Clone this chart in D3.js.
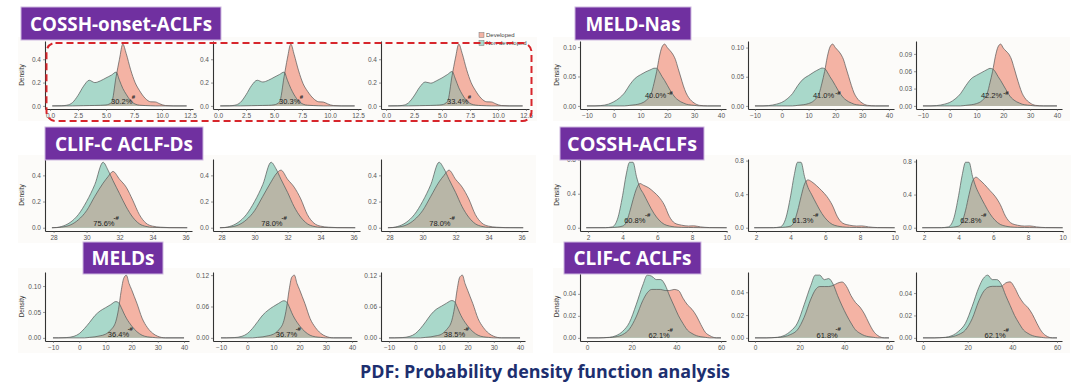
<!DOCTYPE html>
<html>
<head>
<meta charset="utf-8">
<script src="https://cdn.jsdelivr.net/npm/d3@7"></script>
<style>
  body { margin: 0; background: #fff; }
  svg { display: block; }
</style>
</head>
<body>
<svg id="chart" width="1080" height="384"></svg>
<script>
// ---------------------------------------------------------------
// Data
// ---------------------------------------------------------------

const groupTitles = ['COSSH-onset-ACLFs', 'MELD-Nas', 'CLIF-C ACLF-Ds',
                     'COSSH-ACLFs', 'MELDs', 'CLIF-C ACLFs'];
const seriesNames = ['Developed', 'Non-developed'];
const pageTitle = 'PDF: Probability density function analysis';

// COSSH-onset-ACLFs
const onsetX = [0.2, 1.0, 1.5, 2.0, 2.5, 3.0, 3.5, 4.0, 4.5, 5.0, 5.5, 5.9, 6.2,
                6.5, 6.8, 7.2, 7.6, 8.0, 8.5, 9.0, 9.4, 9.8, 10.3, 11.0, 12.2];
const onsetNon = [
  [0, 0.001, 0.006, 0.028, 0.09, 0.17, 0.22, 0.2, 0.215, 0.24, 0.265, 0.29, 0.22, 0.15, 0.1, 0.045, 0.016, 0.006, 0.003, 0.001, 0, 0, 0, 0, 0],
  [0, 0.001, 0.006, 0.03, 0.095, 0.175, 0.22, 0.205, 0.22, 0.245, 0.27, 0.29, 0.22, 0.15, 0.095, 0.042, 0.015, 0.006, 0.003, 0.001, 0, 0, 0, 0, 0],
  [0, 0.001, 0.005, 0.026, 0.085, 0.16, 0.205, 0.195, 0.215, 0.24, 0.27, 0.295, 0.23, 0.155, 0.1, 0.045, 0.017, 0.007, 0.003, 0.001, 0, 0, 0, 0, 0]
];
const onsetDev = [
  [0, 0, 0, 0, 0.001, 0.002, 0.003, 0.004, 0.005, 0.008, 0.03, 0.25, 0.4, 0.53, 0.45, 0.31, 0.2, 0.13, 0.065, 0.035, 0.034, 0.018, 0.003, 0, 0],
  [0, 0, 0, 0, 0.001, 0.002, 0.003, 0.004, 0.005, 0.009, 0.035, 0.25, 0.41, 0.53, 0.44, 0.3, 0.19, 0.125, 0.065, 0.035, 0.033, 0.017, 0.003, 0, 0],
  [0, 0, 0, 0, 0.001, 0.002, 0.003, 0.004, 0.006, 0.01, 0.04, 0.26, 0.41, 0.53, 0.45, 0.31, 0.2, 0.13, 0.065, 0.035, 0.034, 0.018, 0.003, 0, 0]
];
const onsetPct = ['30.2%', '30.3%', '33.4%'];
const onsetXTicks = [0, 2.5, 5, 7.5, 10, 12.5];
const onsetYTicks = [[0, 0.2, 0.4], [0, 0.2, 0.4], [0, 0.2, 0.4]];

// MELD-Nas
const nasX = [-10, -7, -5, -2, 0, 2, 4, 6, 8, 10, 12, 14, 15, 16, 17, 18, 19, 20,
              21, 22, 23, 24, 25, 26, 27, 28, 30, 32, 35, 40];
const nasNon = [
  [0, 0, 0.0005, 0.003, 0.007, 0.013, 0.022, 0.036, 0.047, 0.053, 0.058, 0.062, 0.064, 0.064, 0.058, 0.05, 0.043, 0.035, 0.027, 0.02, 0.014, 0.01, 0.007, 0.005, 0.003, 0.002, 0.001, 0, 0, 0],
  [0, 0, 0.0005, 0.003, 0.006, 0.012, 0.021, 0.035, 0.046, 0.052, 0.058, 0.063, 0.065, 0.064, 0.058, 0.05, 0.043, 0.035, 0.027, 0.02, 0.014, 0.01, 0.007, 0.005, 0.003, 0.002, 0.001, 0, 0, 0],
  [0, 0, 0.0005, 0.003, 0.006, 0.012, 0.021, 0.035, 0.047, 0.053, 0.058, 0.063, 0.065, 0.064, 0.059, 0.051, 0.044, 0.036, 0.028, 0.02, 0.014, 0.01, 0.007, 0.005, 0.003, 0.002, 0.001, 0, 0, 0]
];
const nasDev = [
  [0, 0, 0, 0, 0, 0, 0, 0.001, 0.002, 0.004, 0.009, 0.021, 0.038, 0.058, 0.083, 0.1, 0.105, 0.099, 0.094, 0.088, 0.079, 0.064, 0.049, 0.034, 0.022, 0.014, 0.005, 0.001, 0, 0],
  [0, 0, 0, 0, 0, 0, 0, 0.001, 0.002, 0.004, 0.009, 0.022, 0.039, 0.059, 0.084, 0.101, 0.106, 0.1, 0.095, 0.089, 0.08, 0.065, 0.05, 0.035, 0.022, 0.014, 0.005, 0.001, 0, 0],
  [0, 0, 0, 0, 0, 0, 0, 0.001, 0.002, 0.004, 0.009, 0.022, 0.04, 0.06, 0.085, 0.102, 0.107, 0.1, 0.095, 0.09, 0.081, 0.066, 0.05, 0.035, 0.022, 0.014, 0.005, 0.001, 0, 0]
];
const nasPct = ['40.0%', '41.0%', '42.2%'];
const nasXTicks = [-10, 0, 10, 20, 30, 40];
const nasYTicks = [[0, 0.05, 0.10], [0, 0.05, 0.10], [0, 0.03, 0.06, 0.09]];

// CLIF-C ACLF-Ds
const clifdX = [27.9, 28.2, 28.5, 29.0, 29.5, 30.0, 30.5, 31.0, 31.3, 31.6, 32.0,
                32.4, 32.8, 33.2, 33.6, 34.0, 34.5, 35.0, 36.1];
const clifdNon = [
  [0, 0.002, 0.01, 0.04, 0.1, 0.2, 0.33, 0.5, 0.44, 0.36, 0.26, 0.16, 0.08, 0.03, 0.01, 0.003, 0.001, 0, 0],
  [0, 0.002, 0.01, 0.04, 0.1, 0.2, 0.33, 0.5, 0.45, 0.37, 0.27, 0.16, 0.08, 0.03, 0.01, 0.003, 0.001, 0, 0],
  [0, 0.002, 0.01, 0.04, 0.1, 0.2, 0.33, 0.5, 0.45, 0.37, 0.27, 0.16, 0.08, 0.03, 0.01, 0.003, 0.001, 0, 0]
];
const clifdDev = [
  [0, 0.001, 0.005, 0.02, 0.06, 0.13, 0.24, 0.34, 0.39, 0.43, 0.37, 0.31, 0.21, 0.1, 0.035, 0.012, 0.004, 0.001, 0],
  [0, 0.001, 0.005, 0.02, 0.06, 0.13, 0.24, 0.35, 0.41, 0.44, 0.37, 0.31, 0.22, 0.1, 0.035, 0.012, 0.004, 0.001, 0],
  [0, 0.001, 0.005, 0.02, 0.06, 0.13, 0.24, 0.35, 0.4, 0.44, 0.37, 0.31, 0.22, 0.1, 0.035, 0.012, 0.004, 0.001, 0]
];
const clifdPct = ['75.6%', '78.0%', '78.0%'];
const clifdXTicks = [28, 30, 32, 34, 36];
const clifdYTicks = [[0, 0.2, 0.4], [0, 0.2, 0.4], [0, 0.2, 0.4]];

// COSSH-ACLFs
const acX = [1.9, 3.0, 3.4, 3.7, 4.0, 4.2, 4.4, 4.6, 4.8, 5.0, 5.2, 5.5, 5.8, 6.1,
             6.4, 6.7, 7.0, 7.4, 7.8, 8.1, 8.5, 9.0, 10.0];
const acNon = [
  [0, 0.001, 0.01, 0.1, 0.38, 0.62, 0.77, 0.77, 0.6, 0.47, 0.4, 0.28, 0.17, 0.09, 0.04, 0.02, 0.01, 0.005, 0.003, 0.002, 0.001, 0, 0],
  [0, 0.001, 0.01, 0.1, 0.38, 0.62, 0.78, 0.78, 0.61, 0.48, 0.4, 0.28, 0.17, 0.09, 0.04, 0.02, 0.01, 0.005, 0.003, 0.002, 0.001, 0, 0],
  [0, 0.001, 0.01, 0.1, 0.39, 0.63, 0.79, 0.79, 0.62, 0.49, 0.4, 0.28, 0.17, 0.09, 0.04, 0.02, 0.01, 0.005, 0.003, 0.002, 0.001, 0, 0]
];
const acDev = [
  [0, 0, 0.002, 0.008, 0.02, 0.06, 0.18, 0.33, 0.46, 0.52, 0.5, 0.47, 0.42, 0.36, 0.27, 0.13, 0.055, 0.03, 0.02, 0.022, 0.01, 0.002, 0],
  [0, 0, 0.002, 0.008, 0.02, 0.07, 0.2, 0.37, 0.52, 0.57, 0.55, 0.5, 0.44, 0.37, 0.27, 0.13, 0.055, 0.03, 0.02, 0.022, 0.01, 0.002, 0],
  [0, 0, 0.002, 0.008, 0.02, 0.07, 0.21, 0.4, 0.56, 0.61, 0.58, 0.52, 0.45, 0.38, 0.28, 0.14, 0.06, 0.03, 0.02, 0.022, 0.01, 0.002, 0]
];
const acPct = ['60.8%', '61.3%', '62.8%'];
const acXTicks = [2, 4, 6, 8, 10];
const acYTicks = [[0, 0.4, 0.8], [0, 0.4, 0.8], [0, 0.4, 0.8]];

// MELDs
const meldX = [-10, -8, -5, -2, 0, 2, 4, 6, 8, 10, 12, 14, 15, 16, 17, 18, 19, 20,
               21, 22, 24, 26, 28, 30, 33, 40];
const meldNon = [
  [0, 0, 0.0005, 0.003, 0.008, 0.018, 0.03, 0.043, 0.052, 0.058, 0.064, 0.07, 0.068, 0.059, 0.048, 0.038, 0.03, 0.023, 0.017, 0.012, 0.005, 0.002, 0.001, 0, 0, 0],
  [0, 0, 0.0005, 0.003, 0.008, 0.018, 0.031, 0.044, 0.053, 0.06, 0.066, 0.071, 0.069, 0.06, 0.048, 0.038, 0.03, 0.023, 0.017, 0.012, 0.005, 0.002, 0.001, 0, 0, 0],
  [0, 0, 0.0005, 0.003, 0.008, 0.018, 0.031, 0.045, 0.055, 0.061, 0.067, 0.072, 0.07, 0.06, 0.048, 0.038, 0.03, 0.023, 0.017, 0.012, 0.005, 0.002, 0.001, 0, 0, 0]
];
const meldDev = [
  [0, 0, 0, 0, 0, 0, 0.001, 0.002, 0.004, 0.007, 0.015, 0.032, 0.055, 0.09, 0.115, 0.121, 0.105, 0.093, 0.08, 0.067, 0.038, 0.02, 0.009, 0.003, 0, 0],
  [0, 0, 0, 0, 0, 0, 0.001, 0.002, 0.004, 0.007, 0.015, 0.033, 0.057, 0.092, 0.116, 0.12, 0.104, 0.092, 0.079, 0.066, 0.037, 0.02, 0.009, 0.003, 0, 0],
  [0, 0, 0, 0, 0, 0, 0.001, 0.002, 0.004, 0.007, 0.016, 0.034, 0.058, 0.093, 0.117, 0.121, 0.105, 0.092, 0.079, 0.066, 0.037, 0.02, 0.009, 0.003, 0, 0]
];
const meldPct = ['36.4%', '36.7%', '38.5%'];
const meldXTicks = [-10, 0, 10, 20, 30, 40];
const meldYTicks = [[0, 0.05, 0.10], [0, 0.06, 0.12], [0, 0.06, 0.12]];

// CLIF-C ACLFs
const cliX = [0, 5, 10, 13, 16, 19, 22, 25, 27, 29, 31, 33, 35, 37, 39, 41, 43, 45,
              47, 49, 51, 53, 55, 58, 60];
const cliNon = [
  [0, 0, 0.0005, 0.002, 0.006, 0.014, 0.03, 0.048, 0.057, 0.056, 0.053, 0.053, 0.048, 0.038, 0.029, 0.02, 0.013, 0.007, 0.004, 0.002, 0.001, 0.0005, 0, 0, 0],
  [0, 0, 0.0005, 0.002, 0.006, 0.013, 0.029, 0.046, 0.055, 0.055, 0.051, 0.052, 0.047, 0.037, 0.028, 0.02, 0.013, 0.007, 0.004, 0.002, 0.001, 0.0005, 0, 0, 0],
  [0, 0, 0.0005, 0.002, 0.006, 0.013, 0.028, 0.045, 0.053, 0.056, 0.052, 0.052, 0.048, 0.038, 0.029, 0.02, 0.013, 0.007, 0.004, 0.002, 0.001, 0.0005, 0, 0, 0]
];
const cliDev = [
  [0, 0, 0.0003, 0.001, 0.003, 0.008, 0.019, 0.034, 0.041, 0.044, 0.044, 0.044, 0.043, 0.043, 0.044, 0.043, 0.036, 0.03, 0.026, 0.02, 0.012, 0.005, 0.002, 0, 0],
  [0, 0, 0.0003, 0.001, 0.003, 0.007, 0.018, 0.034, 0.042, 0.045, 0.045, 0.045, 0.046, 0.048, 0.049, 0.045, 0.037, 0.031, 0.027, 0.021, 0.013, 0.006, 0.002, 0, 0],
  [0, 0, 0.0003, 0.001, 0.003, 0.007, 0.017, 0.033, 0.041, 0.045, 0.046, 0.046, 0.046, 0.049, 0.05, 0.045, 0.037, 0.031, 0.027, 0.021, 0.013, 0.006, 0.002, 0, 0]
];
const cliPct = ['62.1%', '61.8%', '62.1%'];
const cliXTicks = [0, 20, 40, 60];
const cliYTicks = [[0, 0.02, 0.04], [0, 0.02, 0.04], [0, 0.02, 0.04]];

// ---------------------------------------------------------------
// Layout
// ---------------------------------------------------------------

// x of the y-axis line for the three small plots in each column
const colX = [[45, 213, 381], [580, 748, 916]];
// [top, x-axis line] for each row
const rowY = [[41, 109], [159, 231], [272, 341]];

const f1 = d3.format('.1f'), f2 = d3.format('.2f'), fi = d3.format('d');

// One entry per group; label / mark positions are in data units
const groups = [
  { col: 0, row: 0, xs: onsetX, non: onsetNon, dev: onsetDev, pct: onsetPct,
    xTicks: onsetXTicks, yTicks: onsetYTicks, xFmt: f1, yFmt: f1,
    xDomain: [-0.45, 12.77], width: 148, label: [6.4, 0.03], mark: [7.45, 0.075], markText: '#',
    box: { x: 21, y: 7, w: 200, h: 33, tw: 182 } },
  { col: 1, row: 0, xs: nasX, non: nasNon, dev: nasDev, pct: nasPct,
    xTicks: nasXTicks, yTicks: nasYTicks, xFmt: fi, yFmt: f2,
    xDomain: [-12.6, 41.9], width: 146, label: [15.6, 0.017], mark: [21.0, 0.022], markText: '-#',
    box: { x: 575, y: 7, w: 116, h: 33, tw: 95 } },
  { col: 0, row: 1, xs: clifdX, non: clifdNon, dev: clifdDev, pct: clifdPct,
    xTicks: clifdXTicks, yTicks: clifdYTicks, xFmt: fi, yFmt: f1,
    xDomain: [27.48, 36.39], width: 147, label: [31.05, 0.03], mark: [31.8, 0.07], markText: '-#',
    box: { x: 45, y: 127, w: 158, h: 33, tw: 138 } },
  { col: 1, row: 1, xs: acX, non: acNon, dev: acDev, pct: acPct,
    xTicks: acXTicks, yTicks: acYTicks, xFmt: fi, yFmt: f1,
    xDomain: [1.54, 10.02], width: 147, label: [4.7, 0.075], mark: [5.45, 0.15], markText: '-#',
    box: { x: 560, y: 127, w: 144, h: 33, tw: 130 } },
  { col: 0, row: 2, xs: meldX, non: meldNon, dev: meldDev, pct: meldPct,
    xTicks: meldXTicks, yTicks: meldYTicks, xFmt: fi, yFmt: f2,
    xDomain: [-13.05, 41.9], width: 144, label: [15.0, 0.005], mark: [19.5, 0.017], markText: '-#',
    box: { x: 83, y: 242, w: 80, h: 32, tw: 63 } },
  { col: 1, row: 2, xs: cliX, non: cliNon, dev: cliDev, pct: cliPct,
    xTicks: cliXTicks, yTicks: cliYTicks, xFmt: fi, yFmt: f2,
    xDomain: [-3.13, 62.24], width: 146, label: [32.3, 0.002], mark: [37.2, 0.007], markText: '-#',
    box: { x: 564, y: 242, w: 137, h: 32, tw: 118 } }
];

// flat fills as they look in the picture; the overlap gets its own grey tone
const devColor = '#f4b3a4';
const nonColor = '#a9d8ca';
const bothColor = '#b8b6a7';
const smallFont = '"Liberation Sans", Arial, sans-serif';

const svg = d3.select('#chart');
const defs = svg.append('defs');

// faint panel backgrounds behind each row of three plots
groups.forEach(g => {
  const [top, bottom] = rowY[g.row];
  const xs = colX[g.col];
  svg.append('rect')
    .attr('x', xs[0] - 27)
    .attr('y', top - 4)
    .attr('width', xs[2] + g.width + 8 - (xs[0] - 27))
    .attr('height', bottom - top + 16)
    .attr('fill', '#fcfbf9');
});

// draw the density plots
groups.forEach((g, gi) => {
  const [top, bottom] = rowY[g.row];

  g.dev.forEach((devVals, i) => {
    const x0 = colX[g.col][i];
    const nonVals = g.non[i];
    const ymax = d3.max(devVals.concat(nonVals));

    const xScale = d3.scaleLinear().domain(g.xDomain).range([x0, x0 + g.width]);
    const yScale = d3.scaleLinear().domain([-0.05 * ymax, 1.05 * ymax]).range([bottom, top]);

    const plot = svg.append('g').attr('class', 'plot');

    const area = d3.area()
      .x((d, k) => xScale(g.xs[k]))
      .y0(yScale(0))
      .y1(d => yScale(d))
      .curve(d3.curveMonotoneX);
    const line = d3.line()
      .x((d, k) => xScale(g.xs[k]))
      .y(d => yScale(d))
      .curve(d3.curveMonotoneX);

    // clip made from the Developed area, used to paint the overlap
    const clipId = `dev-clip-${gi}-${i}`;
    defs.append('clipPath').attr('id', clipId)
      .append('path').datum(devVals).attr('d', area);

    plot.append('path').datum(devVals).attr('d', area).attr('fill', devColor);
    plot.append('path').datum(nonVals).attr('d', area).attr('fill', nonColor);
    plot.append('path').datum(nonVals).attr('d', area)
      .attr('fill', bothColor)
      .attr('clip-path', `url(#${clipId})`);

    [devVals, nonVals].forEach(vals => {
      plot.append('path')
        .datum(vals)
        .attr('d', line)
        .attr('fill', 'none')
        .attr('stroke', '#555')
        .attr('stroke-width', 0.7);
    });

    // Axes
    const xAxis = plot.append('g')
      .attr('transform', `translate(0, ${bottom})`)
      .call(d3.axisBottom(xScale).tickValues(g.xTicks).tickFormat(g.xFmt)
              .tickSize(2).tickSizeOuter(0).tickPadding(2));
    const yAxis = plot.append('g')
      .attr('transform', `translate(${x0}, 0)`)
      .call(d3.axisLeft(yScale).tickValues(g.yTicks[i]).tickFormat(g.yFmt)
              .tickSize(2).tickSizeOuter(0).tickPadding(2));

    [xAxis, yAxis].forEach(ax => {
      ax.select('.domain').attr('stroke', '#333').attr('stroke-width', 1.1);
      ax.selectAll('.tick line').attr('stroke', '#555').attr('stroke-width', 0.6);
      ax.selectAll('.tick text')
        .attr('fill', '#555')
        .style('font-family', smallFont)
        .style('font-size', '6.5px');
    });

    // Axis title only on the first plot of each group
    if (i === 0) {
      plot.append('text')
        .attr('transform', `translate(${x0 - 21}, ${(top + bottom) / 2}) rotate(-90)`)
        .attr('text-anchor', 'middle')
        .style('font-family', smallFont)
        .style('font-size', '6.5px')
        .attr('fill', '#333')
        .text('Density');
    }

    // overlap percentage and significance mark
    plot.append('text')
      .attr('x', xScale(g.label[0]))
      .attr('y', yScale(g.label[1]))
      .attr('text-anchor', 'middle')
      .attr('dominant-baseline', 'middle')
      .style('font-family', smallFont)
      .style('font-size', '7.5px')
      .attr('fill', '#222')
      .text(g.pct[i]);
    plot.append('text')
      .attr('x', xScale(g.mark[0]))
      .attr('y', yScale(g.mark[1]))
      .attr('text-anchor', 'middle')
      .attr('dominant-baseline', 'middle')
      .style('font-family', smallFont)
      .style('font-size', '6px')
      .style('font-weight', 'bold')
      .attr('fill', '#222')
      .text(g.markText);
  });
});

// legend of the first group
const legend = svg.append('g').attr('transform', 'translate(479, 35)');
seriesNames.forEach((name, k) => {
  legend.append('rect')
    .attr('x', 0).attr('y', k * 8 - 2.5)
    .attr('width', 5).attr('height', 5)
    .attr('fill', k === 0 ? devColor : nonColor)
    .attr('stroke', '#777').attr('stroke-width', 0.5);
  legend.append('text')
    .attr('x', 7).attr('y', k * 8)
    .attr('dominant-baseline', 'middle')
    .style('font-family', smallFont)
    .style('font-size', '6px')
    .attr('fill', '#444')
    .text(name);
});

// red dashed highlight around the first group
svg.append('rect')
  .attr('x', 46.5).attr('y', 43)
  .attr('width', 485).attr('height', 78)
  .attr('rx', 9).attr('ry', 9)
  .attr('fill', 'none')
  .attr('stroke', '#d7262c')
  .attr('stroke-width', 2)
  .attr('stroke-dasharray', '7,4');

// purple group titles
groups.forEach((g, gi) => {
  const b = g.box;
  svg.append('rect')
    .attr('x', b.x).attr('y', b.y)
    .attr('width', b.w).attr('height', b.h)
    .attr('fill', '#7030a0')
    .attr('stroke', '#cdb8e0')
    .attr('stroke-width', 1);
  svg.append('text')
    .attr('x', b.x + b.w / 2)
    .attr('y', b.y + b.h / 2 + 7)
    .attr('text-anchor', 'middle')
    .attr('textLength', b.tw)
    .attr('lengthAdjust', 'spacingAndGlyphs')
    .style('font-family', '"Open Sans", "Noto Sans", sans-serif')
    .style('font-weight', 'bold')
    .style('font-size', '19px')
    .attr('fill', '#fff')
    .text(groupTitles[gi]);
});

// page caption
svg.append('text')
  .attr('x', 545).attr('y', 378)
  .attr('text-anchor', 'middle')
  .attr('textLength', 370)
  .attr('lengthAdjust', 'spacingAndGlyphs')
  .style('font-family', '"Open Sans", "Noto Sans", sans-serif')
  .style('font-weight', 'bold')
  .style('font-size', '18px')
  .attr('fill', '#1d2f6f')
  .text(pageTitle);
</script>
</body>
</html>
